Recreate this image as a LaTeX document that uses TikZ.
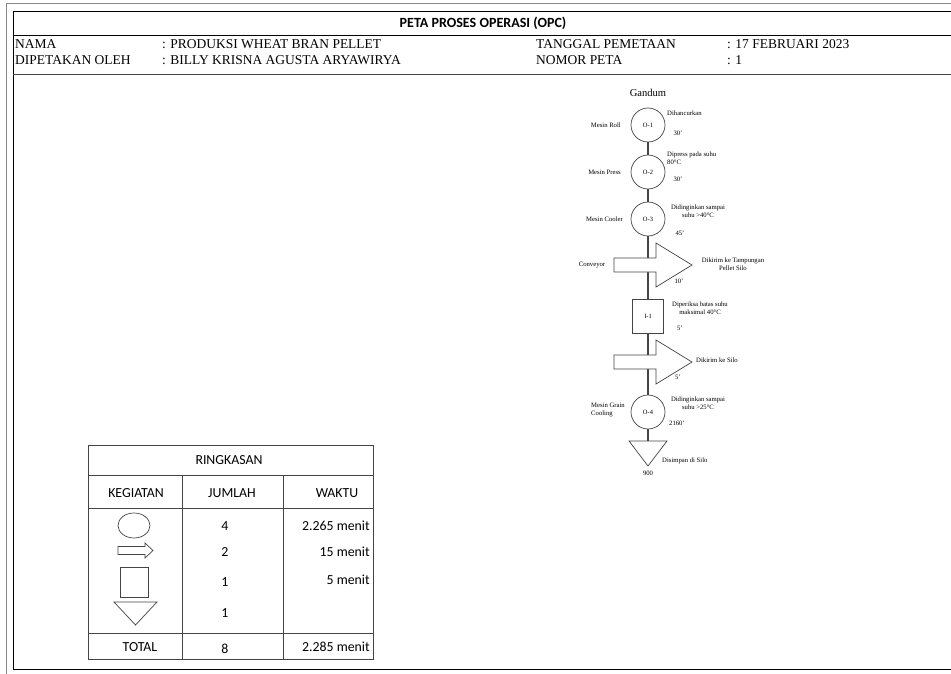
\documentclass[tikz,border=0pt]{standalone}
\usepackage{fontspec}
\setmainfont{Liberation Serif}
\newfontfamily\calibri{Carlito}
\definecolor{opcgray}{HTML}{444444}
\definecolor{framegray}{HTML}{888888}

\begin{document}
\begin{tikzpicture}[x=0.03cm, y=-0.03cm,
        hdr/.style={anchor=west, inner sep=0pt, font=\fontsize{11.5}{13}\selectfont},
        opnode/.style={draw=opcgray, circle, line width=0.6pt, minimum size=1.02cm, inner sep=0pt,
                       fill=white, font=\fontsize{5.5}{6.5}\selectfont},
        inspnode/.style={opnode, rectangle, minimum width=0.93cm, minimum height=1.02cm},
        shp/.style={draw=opcgray, line width=0.6pt, fill=white},
        flow/.style={draw=opcgray, line width=1.1pt},
        lbl/.style={inner sep=0pt, align=center, font=\fontsize{5.7}{6.7}\selectfont},
        tline/.style={draw=opcgray, line width=0.6pt},
        tbl/.style={inner sep=0pt, font=\calibri\fontsize{11.8}{13}\selectfont}
      ]
        \path[use as bounding box] (0,0) rectangle (951,674);
        \draw[framegray, line width=0.8pt] (951,3) -- (6,3) -- (6,674);
        \draw[black, line width=0.8pt] (13,11) rectangle (965,669);
        \draw[black, line width=0.8pt] (13,35) -- (951,35);
        \draw[opcgray, line width=0.8pt] (13,74) -- (951,74);

        \node[font=\calibri\bfseries\fontsize{12}{14}\selectfont] (title) at (483,23) {PETA PROSES OPERASI (OPC)};
        \node[hdr] (nama)  at (15,44)  {NAMA};
        \node[hdr] (oleh)  at (15,60)  {DIPETAKAN OLEH};
        \node[hdr] (namav) at (162,44) {: PRODUKSI WHEAT BRAN PELLET};
        \node[hdr] (olehv) at (162,60) {: BILLY KRISNA AGUSTA ARYAWIRYA};
        \node[hdr] (tgl)   at (536,44) {TANGGAL PEMETAAN};
        \node[hdr] (nomor) at (536,60) {NOMOR PETA};
        \node[hdr] (tglv)  at (727,44) {: 17 FEBRUARI 2023};
        \node[hdr] (nomorv) at (727,60) {: 1};

        \node[font=\fontsize{9}{10}\selectfont] (gandum) at (648,93) {Gandum};
        \node[opnode]   (o1) at (648,125) {O-1};
        \node[opnode]   (o2) at (648,172) {O-2};
        \node[opnode]   (o3) at (648,219) {O-3};
        \coordinate     (t1) at (653,265);
        \node[inspnode] (i1) at (648,316) {I-1};
        \coordinate     (t2) at (653,362);
        \node[opnode]   (o4) at (648,412) {O-4};
        \coordinate     (s1) at (648,441);

        \draw[flow] (o1) -- (o2);
        \draw[flow] (o2) -- (o3);
        \draw[flow] (o3) -- (i1);
        \draw[flow] (i1) -- (o4);
        \draw[flow] (o4) -- (s1);

        \draw[shp, shift={(t1)}] (-39,-7) -- (3,-7) -- (3,-22) -- (39,0) -- (3,22) -- (3,7) -- (-39,7) -- cycle;
        \draw[shp, shift={(t2)}] (-39,-7) -- (3,-7) -- (3,-22) -- (39,0) -- (3,22) -- (3,7) -- (-39,7) -- cycle;
        \draw[shp, shift={(s1)}] (-19,0) -- (19,0) -- (0,25) -- cycle;

        \node[lbl, anchor=east] (m1) at (621,125) {Mesin Roll};
        \node[lbl, anchor=west] (k1) at (667,113) {Dihancurkan};
        \node[lbl] (w1) at (678,133) {30'};
        \node[lbl, anchor=north west, align=left] (k2) at (667,152) {Dipress pada suhu\\80°C};
        \node[lbl, anchor=east] (m2) at (621,172) {Mesin Press};
        \node[lbl] (w2) at (678,179) {30'};
        \node[lbl] (k3) at (698,211) {Didinginkan sampai\\suhu >40°C};
        \node[lbl, anchor=east] (m3) at (623,219) {Mesin Cooler};
        \node[lbl] (w3) at (680,233) {45'};
        \node[lbl] (m4) at (592,265) {Conveyor};
        \node[lbl] (k4) at (733,264) {Dikirim ke Tampungan\\Pellet Silo};
        \node[lbl] (w4) at (679,281) {10'};
        \node[lbl] (k5) at (700,308) {Diperiksa batas suhu\\maksimal 40°C};
        \node[lbl] (w5) at (680,328) {5'};
        \node[lbl] (k6) at (717,360) {Dikirim ke Silo};
        \node[lbl] (w6) at (678,377) {5'};
        \node[lbl, anchor=west, align=left] (m7) at (591,410) {Mesin Grain\\Cooling};
        \node[lbl] (k7) at (698,403) {Didinginkan sampai\\suhu >25°C};
        \node[lbl] (w7) at (677,423) {2160'};
        \node[lbl, anchor=west] (k8) at (662,461) {Disimpan di Silo};
        \node[lbl] (w8) at (648,473) {900};

        \draw[tline] (88,445) rectangle (373,659);
        \draw[tline] (88,475) -- (373,475);
        \draw[tline] (88,508) -- (373,508);
        \draw[tline] (88,633) -- (373,633);
        \draw[tline] (182,475) -- (182,659);
        \draw[tline] (283,475) -- (283,659);

        \node[tbl] (ring) at (229,460) {RINGKASAN};
        \node[tbl] (keg)  at (136,493) {KEGIATAN};
        \node[tbl] (jml)  at (232,493) {JUMLAH};
        \node[tbl] (wkt)  at (337,493) {WAKTU};

        \draw[shp] (134,525.5) ellipse [x radius=16, y radius=12.5];
        \draw[shp] (118,546.5) -- (145,546.5) -- (145,543) -- (153,550.5) -- (145,558) -- (145,554.5) -- (118,554.5) -- cycle;
        \draw[shp] (120,567) rectangle (148,597);
        \draw[shp] (114,602) -- (157,602) -- (135.5,625) -- cycle;

        \node[tbl] (j1) at (225,526) {4};
        \node[tbl] (j2) at (225,552) {2};
        \node[tbl] (j3) at (225,582) {1};
        \node[tbl] (j4) at (225,613) {1};
        \node[tbl, anchor=east] (v1) at (370,526) {2.265 menit};
        \node[tbl, anchor=east] (v2) at (370,552) {15 menit};
        \node[tbl, anchor=east] (v3) at (370,580) {5 menit};

        \node[tbl] (tot)  at (140,647) {TOTAL};
        \node[tbl] (jtot) at (225,649) {8};
        \node[tbl, anchor=east] (vtot) at (370,647) {2.285 menit};
      \end{tikzpicture}
\end{document}
